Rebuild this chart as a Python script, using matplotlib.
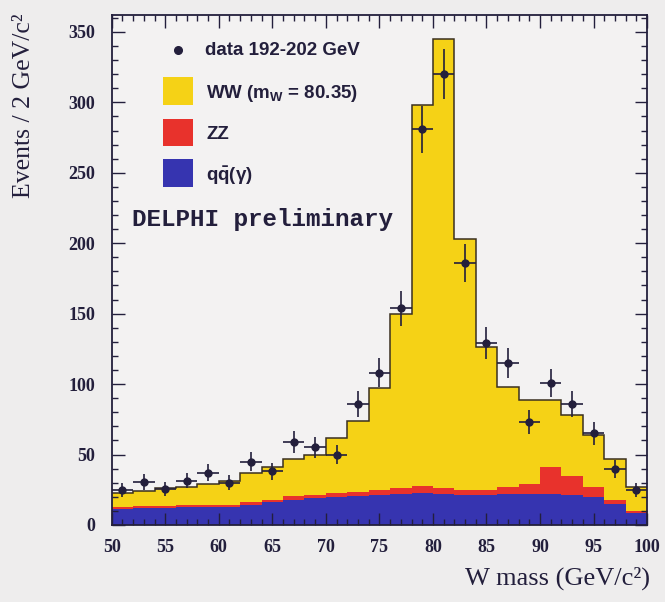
import numpy as np
import matplotlib
matplotlib.use("Agg")
import matplotlib.pyplot as plt
from matplotlib.patches import Rectangle
from matplotlib.ticker import MultipleLocator

plt.rcParams['mathtext.fontset'] = 'custom'
plt.rcParams['mathtext.rm'] = 'Liberation Sans:bold'
plt.rcParams['mathtext.it'] = 'Liberation Sans:bold'
plt.rcParams['mathtext.bf'] = 'Liberation Sans:bold'

# W mass distribution, 2 GeV bins from 50 to 100
edges = np.arange(50, 101, 2)
centers = edges[:-1] + 1

# total expectation (qq + ZZ + WW) per bin
total = [23, 24, 26, 27, 29, 31, 37, 41, 47, 50, 62, 74, 97,
         150, 298, 345, 203, 126, 98, 89, 89, 78, 64, 47, 27]
# qq(gamma) background
qq = [11, 12, 12, 12.5, 13, 13, 14.5, 16, 18, 19, 20, 20.5, 21,
      22, 23, 22, 21, 21, 22, 22, 22, 21, 20, 15, 8.5]
# ZZ background
zz = [1.5, 1.5, 1.5, 1.5, 1.5, 1.5, 2, 2, 2.5, 2.5, 3, 3, 3.5,
      4, 5, 4, 4, 4, 5, 7, 19, 14, 7, 3, 1.5]
# data 192-202 GeV
data = [25, 30.5, 25.5, 31.5, 37, 30, 45, 38, 59, 55, 50, 86, 108,
        154, 281, 320, 186, 129, 115, 73, 101, 86, 65, 40, 25]

total = np.array(total, float)
qq = np.array(qq, float)
zz = np.array(zz, float)
data = np.array(data, float)

ink = '#231f3c'
yellow = '#f5d216'
red = '#e8322c'
blue = '#3634b0'

fig = plt.figure(figsize=(6.65, 6.02), dpi=100, facecolor='#eeeded')
ax = fig.add_axes([0.168, 0.128, 0.805, 0.847])
ax.set_facecolor('#f3f2f2')

ax.stairs(qq, edges, baseline=0, fill=True, color=blue, lw=0)
ax.stairs(qq + zz, edges, baseline=qq, fill=True, color=red, lw=0)
ax.stairs(total, edges, baseline=qq + zz, fill=True, color=yellow, lw=0)
ax.stairs(total, edges, baseline=None, color='#3a3020', lw=1.1)

ax.errorbar(centers, data, xerr=1, yerr=np.sqrt(data), fmt='o', ms=5,
            color=ink, elinewidth=1.2, capsize=0, zorder=5)

ax.set_xlim(50, 100)
ax.set_ylim(0, 362)
ax.xaxis.set_major_locator(MultipleLocator(5))
ax.xaxis.set_minor_locator(MultipleLocator(1))
ax.yaxis.set_major_locator(MultipleLocator(50))
ax.yaxis.set_minor_locator(MultipleLocator(10))
ax.tick_params(which='both', direction='in', top=True, right=True,
               color=ink, width=1)
ax.tick_params(which='major', length=9)
ax.tick_params(which='minor', length=4.5)
ax.tick_params(axis='x', pad=10)
ax.tick_params(axis='y', pad=12)
for lab in ax.get_xticklabels() + ax.get_yticklabels():
    lab.set_family('Liberation Serif')
    lab.set_fontsize(13)
    lab.set_fontweight('bold')
    lab.set_color(ink)
for s in ax.spines.values():
    s.set_color(ink)
    s.set_linewidth(1.3)

fig.text(0.036, 0.978, 'Events / 2 GeV/c²', rotation=90, ha='center',
         va='top', family='Liberation Serif', fontsize=18.5, color=ink)
fig.text(0.978, 0.04, 'W mass (GeV/c²)', ha='right', va='center',
         family='Liberation Serif', fontsize=19, color=ink)

# legend
lab_kw = dict(transform=ax.transAxes, va='center', ha='left',
              family='Liberation Sans', fontweight='bold', fontsize=13.5,
              color=ink)
ax.plot([0.123], [0.931], 'o', ms=5.5, color=ink, transform=ax.transAxes)
ax.text(0.174, 0.931, 'data 192-202 GeV', **lab_kw)
boxes = [(yellow, r'WW (m$_\mathbf{W}$ = 80.35)', 0.824),
         (red, 'ZZ', 0.743),
         (blue, r'$\mathbf{q\bar{q}(\gamma)}$', 0.663)]
for col, txt, y0 in boxes:
    ax.add_patch(Rectangle((0.095, y0), 0.056, 0.054, transform=ax.transAxes,
                           facecolor=col, edgecolor='none'))
    ax.text(0.177, y0 + 0.022, txt, **lab_kw)

ax.text(0.038, 0.60, 'DELPHI preliminary', transform=ax.transAxes,
        va='center', ha='left', family='Liberation Mono',
        fontweight='bold', fontsize=17.5, color=ink)

fig.savefig('out.png', dpi=100, facecolor=fig.get_facecolor())
